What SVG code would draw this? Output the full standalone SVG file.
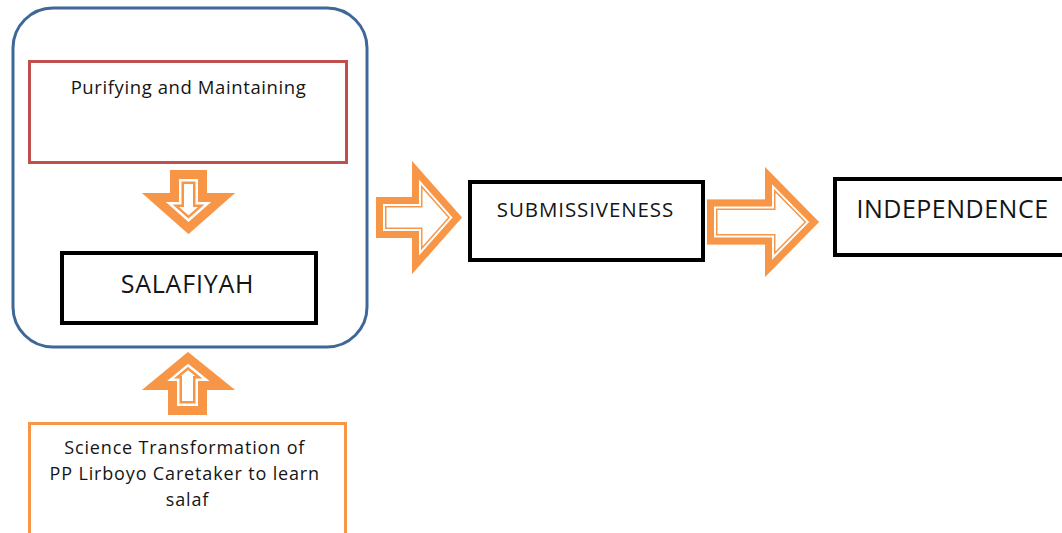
<svg xmlns="http://www.w3.org/2000/svg" xmlns:xlink="http://www.w3.org/1999/xlink" width="1062" height="533" viewBox="0 0 1062 533">
  <style>
    .txt { font-family: "Open Sans", "Liberation Sans", Arial, sans-serif; fill: #151515; text-anchor: middle; }
    .box { fill: #ffffff; stroke: #000000; stroke-width: 4; }
    .o1 { fill: none; stroke: #f79646; stroke-linejoin: miter; stroke-miterlimit: 10; }
    .w1 { fill: none; stroke: #ffffff; stroke-linejoin: miter; stroke-miterlimit: 10; }
  </style>
  <defs>
    <polygon id="a1" points="376,197 412,197 412,161 462,217.5 412,274 412,238 376,238"/>
    <polygon id="a2" points="707,199.5 765,199.5 765,167 819,222 765,277 765,244.5 707,244.5"/>
    <polygon id="a3" points="170,170 207,170 207,193 235,193 188.5,234 142,193 170,193"/>
    <polygon id="a4" points="168,415 207,415 207,390 235,390 188,352 142,390 168,390"/>
    <clipPath id="c1"><use href="#a1"/></clipPath>
    <clipPath id="c2"><use href="#a2"/></clipPath>
    <clipPath id="c3"><use href="#a3"/></clipPath>
    <clipPath id="c4"><use href="#a4"/></clipPath>
  </defs>
  <rect x="0" y="0" width="1062" height="533" fill="#ffffff"/>

  <g id="container">
    <rect x="13" y="8" width="354" height="339" rx="40" ry="40" fill="#ffffff" stroke="#3f6899" stroke-width="3"/>
  </g>

  <g id="purifying">
    <rect x="29.5" y="61.5" width="317" height="101" fill="#ffffff" stroke="#c0504d" stroke-width="3"/>
    <text class="txt" x="188.5" y="94" font-size="18.5" letter-spacing="0.6">Purifying and Maintaining</text>
  </g>

  <g id="salafiyah">
    <rect class="box" x="62" y="253" width="254" height="70"/>
    <text class="txt" x="187.5" y="293" font-size="25" letter-spacing="0.8">SALAFIYAH</text>
  </g>

  <g id="submissiveness">
    <rect class="box" x="470" y="182" width="233" height="78"/>
    <text class="txt" x="585.5" y="217" font-size="20.5" letter-spacing="0.9">SUBMISSIVENESS</text>
  </g>

  <g id="independence">
    <rect class="box" x="835" y="179" width="240" height="76"/>
    <text class="txt" x="952.5" y="218" font-size="25" letter-spacing="0.5">INDEPENDENCE</text>
  </g>

  <g id="science">
    <rect x="29.5" y="423.5" width="316" height="130" fill="#ffffff" stroke="#f79646" stroke-width="3"/>
    <text class="txt" font-size="18" letter-spacing="0.85">
      <tspan x="187.5" y="454">Science Transformation of</tspan>
      <tspan x="187.5" y="480">PP Lirboyo Caretaker to learn</tspan>
      <tspan x="187.5" y="506">salaf</tspan>
    </text>
  </g>

  <g id="connectors">
    <g id="arrow-to-submissiveness">
      <use href="#a1" fill="#ffffff"/>
      <use href="#a1" class="o1" stroke-width="21" clip-path="url(#c1)"/>
      <use href="#a1" class="w1" stroke-width="18" clip-path="url(#c1)"/>
      <use href="#a1" class="o1" stroke-width="14" clip-path="url(#c1)"/>
    </g>
    <g id="arrow-to-independence">
      <use href="#a2" fill="#ffffff"/>
      <use href="#a2" class="o1" stroke-width="21" clip-path="url(#c2)"/>
      <use href="#a2" class="w1" stroke-width="18" clip-path="url(#c2)"/>
      <use href="#a2" class="o1" stroke-width="14" clip-path="url(#c2)"/>
    </g>
    <g id="arrow-down">
      <use href="#a3" fill="#ffffff"/>
      <use href="#a3" class="o1" stroke-width="28" clip-path="url(#c3)"/>
      <use href="#a3" class="w1" stroke-width="23" clip-path="url(#c3)"/>
      <use href="#a3" class="o1" stroke-width="18" clip-path="url(#c3)"/>
    </g>
    <g id="arrow-up">
      <use href="#a4" fill="#ffffff"/>
      <use href="#a4" class="o1" stroke-width="28" clip-path="url(#c4)"/>
      <use href="#a4" class="w1" stroke-width="23" clip-path="url(#c4)"/>
      <use href="#a4" class="o1" stroke-width="18" clip-path="url(#c4)"/>
    </g>
  </g>
</svg>
